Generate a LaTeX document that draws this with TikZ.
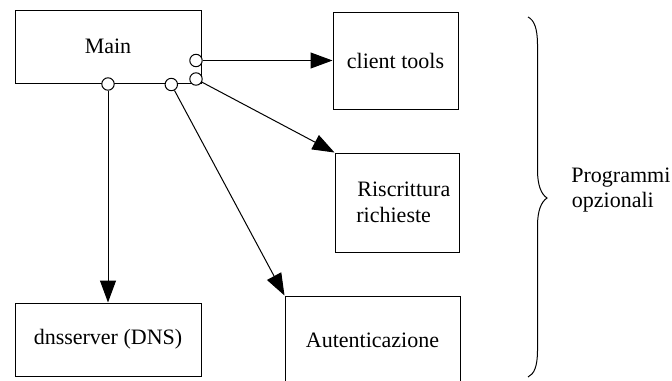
\documentclass[tikz,border=0pt]{standalone}
\usepackage{fontspec}
\setmainfont{Liberation Serif}
\usetikzlibrary{arrows.meta}
\begin{document}
\begin{tikzpicture}[x=0.5pt,y=-0.5pt,
  font=\fontsize{11pt}{13pt}\selectfont,
  box/.style={draw, line width=0.5pt, inner sep=0pt, fill=white},
  port/.style={circle, draw, line width=0.5pt, fill=white, inner sep=0pt, minimum size=6.2pt},
  lbl/.style={inner sep=0pt},
  conn/.style={line width=0.5pt, -{Triangle[length=11pt,width=8pt]}}]
\useasboundingbox (0,0) rectangle (672,380);
\node[box, minimum width=93pt, minimum height=36.5pt] (main) at (108,46.5) {Main};
\node[box, minimum width=62.5pt, minimum height=48.5pt] (ct) at (395.5,60.5) {client tools};
\node[box, minimum width=62pt, minimum height=49.5pt] (rw) at (397,202.5) {};
\node[lbl, anchor=base west] (rw1) at (357,196) {Riscrittura};
\node[lbl, anchor=base west] (rw2) at (356,222) {richieste};
\node[box, minimum width=87.5pt, minimum height=44pt] (au) at (372.5,340) {Autenticazione};
\node[box, minimum width=93pt, minimum height=36.5pt] (dns) at (108,339.5) {dnsserver (DNS)};
\node[port] (c1) at (196,60.5) {};
\node[port] (c2) at (196,79) {};
\node[port] (c3) at (108,84) {};
\node[port] (c4) at (171.3,84.5) {};
\draw[conn] (c1) -- (c1 -| ct.west);
\draw[conn] (c2) -- (rw.north west);
\draw[conn] (c3) -- (dns.north);
\draw[conn] (c4) -- (au.north west);
\draw[line width=0.5pt] (528,17) .. controls (534,20) and (537.5,28) .. (537.5,45) -- (537.5,170) .. controls (537.5,185) and (541,194) .. (547,198) .. controls (541,202) and (537.5,211) .. (537.5,226) -- (537.5,350) .. controls (537.5,367) and (534,374) .. (528,377);
\node[lbl, anchor=base west] (p1) at (571,182.5) {Programmi};
\node[lbl, anchor=base west] (p2) at (571.5,207) {opzionali};
\end{tikzpicture}
\end{document}
